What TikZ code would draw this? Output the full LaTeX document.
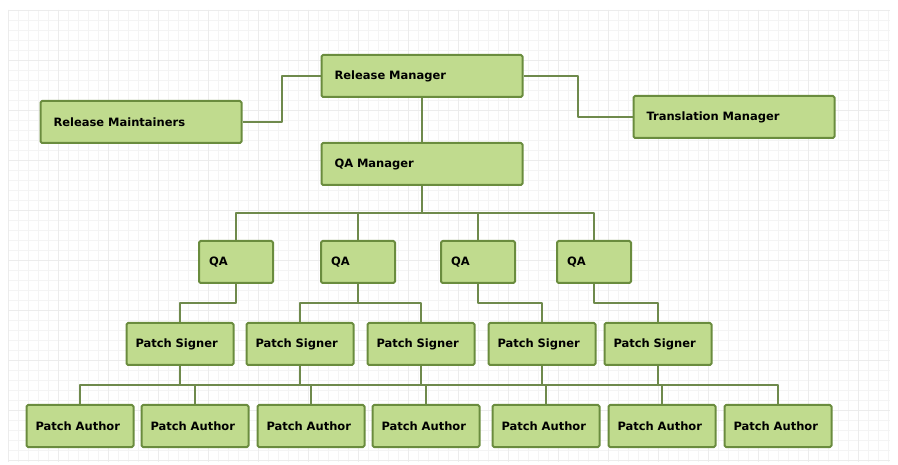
\documentclass[tikz,border=0pt]{standalone}
\usepackage{fontspec}
\setmainfont{DejaVu Sans}
\usetikzlibrary{calc}
\definecolor{boxfill}{HTML}{C0DB8E}
\definecolor{boxline}{HTML}{6A8C3E}
\definecolor{linkcol}{HTML}{6F8A4C}
\definecolor{gridminor}{HTML}{F4F4F4}
\definecolor{gridmajor}{HTML}{ECECEC}
\begin{document}
\begin{tikzpicture}[x=1pt, y=-1pt, line join=round, font=\bfseries\fontsize{11.5}{13}\selectfont,
		box/.style={draw=boxline, fill=boxfill, line width=2pt, rounded corners=1.5pt, minimum height=42pt, inner ysep=0pt, align=left},
		wide/.style={box, text width=175pt, inner xsep=13pt},
		qa/.style={box, text width=54pt, inner xsep=10pt},
		patch/.style={box, text width=89pt, inner xsep=9pt},
		link/.style={draw=linkcol, line width=2pt},
		elbow/.style={to path={|- ($(\tikztostart)!.5!(\tikztotarget)$) -| (\tikztotarget)}},
		side/.style={to path={-| ($(\tikztostart)!.5!(\tikztotarget)$) |- (\tikztotarget)}}]
	\useasboundingbox[fill=white] (0,0) rectangle (898,465);
	% Background grid
	\foreach \gx in {8,18,...,888} \draw[gridminor, line width=0.6pt] (\gx,10) -- (\gx,462);
	\foreach \gy in {10,20,...,460} \draw[gridminor, line width=0.6pt] (8,\gy) -- (890,\gy);
	\foreach \gx in {8,58,...,858} \draw[gridmajor, line width=0.7pt] (\gx,10) -- (\gx,462);
	\foreach \gy in {10,60,...,460} \draw[gridmajor, line width=0.7pt] (8,\gy) -- (890,\gy);
	% Managers
	\node[wide] (relmgr) at (422,76) {Release Manager};
	\node[wide] (relmaint) at (141,122) {Release Maintainers};
	\node[wide] (transmgr) at (734,117) {Translation Manager};
	\node[wide] (qamgr) at (422,164) {QA Manager};
	% QA row
	\node[qa] (qa1) at (236,262) {QA};
	\node[qa] (qa2) at (358,262) {QA};
	\node[qa] (qa3) at (478,262) {QA};
	\node[qa] (qa4) at (594,262) {QA};
	% Signers
	\node[patch] (sign1) at (180,344) {Patch Signer};
	\node[patch] (sign2) at (300,344) {Patch Signer};
	\node[patch] (sign3) at (421,344) {Patch Signer};
	\node[patch] (sign4) at (542,344) {Patch Signer};
	\node[patch] (sign5) at (658,344) {Patch Signer};
	% Authors
	\node[patch] (auth1) at (80,426) {Patch Author};
	\node[patch] (auth2) at (195,426) {Patch Author};
	\node[patch] (auth3) at (311,426) {Patch Author};
	\node[patch] (auth4) at (426,426) {Patch Author};
	\node[patch] (auth5) at (546,426) {Patch Author};
	\node[patch] (auth6) at (662,426) {Patch Author};
	\node[patch] (auth7) at (778,426) {Patch Author};
	% Connectors
	\draw[link] (relmgr.west) to[side] (relmaint.east);
	\draw[link] (relmgr.east) to[side] (transmgr.west);
	\draw[link] (relmgr) -- (qamgr);
	\foreach \q in {qa1,qa2,qa3,qa4} \draw[link] (qamgr.south) to[elbow] (\q.north);
	\draw[link] (qa1.south) to[elbow] (sign1.north);
	\draw[link] (qa2.south) to[elbow] (sign2.north);
	\draw[link] (qa2.south) to[elbow] (sign3.north);
	\draw[link] (qa3.south) to[elbow] (sign4.north);
	\draw[link] (qa4.south) to[elbow] (sign5.north);
	\foreach \s/\a in {1/1,1/2,2/2,2/3,3/3,3/4,4/4,4/5,5/5,5/6,5/7}
		\draw[link] (sign\s.south) to[elbow] (auth\a.north);
\end{tikzpicture}
\end{document}
